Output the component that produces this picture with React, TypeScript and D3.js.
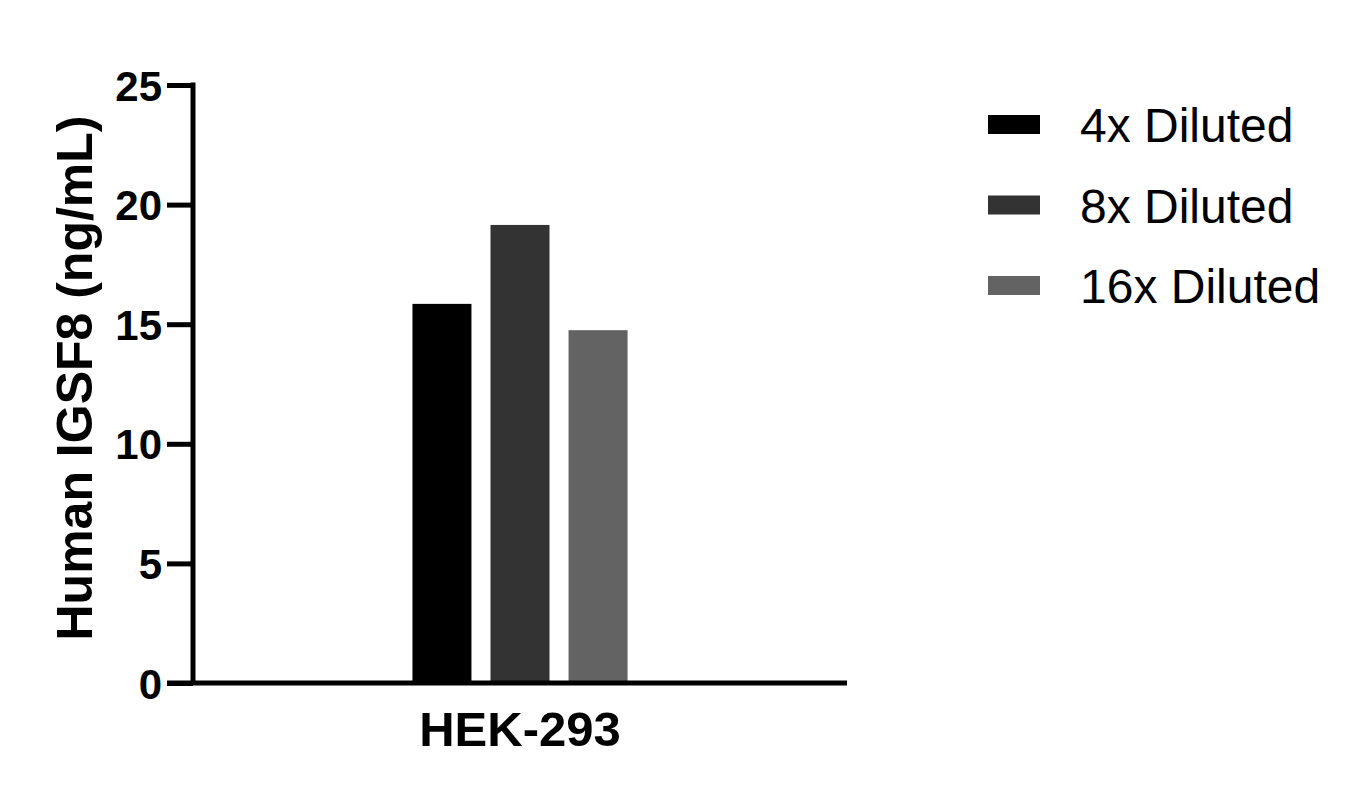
import React, { useEffect, useRef } from "react";
import * as d3 from "d3";

const categories = ["HEK-293"];
const seriesNames = ["4x Diluted", "8x Diluted", "16x Diluted"];
const seriesValues = [15.85, 19.15, 14.75];
const seriesColors = ["#000000", "#333333", "#636363"];
const yTicks = [0, 5, 10, 15, 20, 25];

const WIDTH = 1364;
const HEIGHT = 804;
const FONT = "'Liberation Sans', Arial, sans-serif";

export const App: React.FC = () => {
  const svgRef = useRef<SVGSVGElement | null>(null);

  useEffect(() => {
    document.body.style.margin = "0";
    const svg = d3.select(svgRef.current);
    svg.selectAll("*").remove();

    const margin = { top: 85, left: 193, right: 517, bottom: 121 };
    const innerWidth = WIDTH - margin.left - margin.right;
    const innerHeight = HEIGHT - margin.top - margin.bottom;

    const g = svg.append("g").attr("transform", `translate(${margin.left},${margin.top})`);

    const x0 = d3.scaleBand<string>().domain(categories).range([0, innerWidth]).paddingInner(0.505).paddingOuter(0.505);
    const x1 = d3.scaleBand<string>().domain(seriesNames).range([0, x0.bandwidth()]).paddingInner(0.244).paddingOuter(0);
    const y = d3.scaleLinear().domain([0, 25]).range([innerHeight, 0]);

    // bars
    categories.forEach((cat) => {
      g.append("g")
        .attr("transform", `translate(${x0(cat)},0)`)
        .selectAll("rect")
        .data(seriesNames.map((name, i) => ({ name, value: seriesValues[i], color: seriesColors[i] })))
        .join("rect")
        .attr("x", (d) => x1(d.name)!)
        .attr("width", x1.bandwidth())
        .attr("y", (d) => y(d.value))
        .attr("height", (d) => innerHeight - y(d.value))
        .attr("fill", (d) => d.color);
    });

    // y axis
    const yAxis = g.append("g")
      .call(d3.axisLeft(y).tickValues(yTicks).tickSize(26).tickPadding(5).tickSizeOuter(0));
    yAxis.select(".domain").attr("stroke", "#000").attr("stroke-width", 5).attr("d", `M0,${y(25) - 2.5}V${innerHeight}`);
    yAxis.selectAll(".tick line").attr("stroke", "#000").attr("stroke-width", 5);
    yAxis.selectAll(".tick text")
      .attr("fill", "#000")
      .style("font-family", FONT)
      .style("font-size", "42px")
      .style("font-weight", "bold")
      .attr("dy", "0.36em");

    // x axis
    const xAxis = g.append("g")
      .attr("transform", `translate(0,${innerHeight})`)
      .call(d3.axisBottom(x0).tickSize(0).tickPadding(28));
    xAxis.select(".domain").attr("stroke", "#000").attr("stroke-width", 5).attr("d", `M-26,0H${innerWidth}`);
    xAxis.selectAll(".tick text")
      .attr("fill", "#000")
      .style("font-family", FONT)
      .style("font-size", "49px")
      .style("font-weight", "bold")
      .attr("dy", "0.72em");

    // y label
    svg.append("text")
      .attr("transform", `translate(92,378) rotate(-90)`)
      .attr("text-anchor", "middle")
      .style("font-family", FONT)
      .style("font-size", "50px")
      .style("font-weight", "bold")
      .attr("fill", "#000")
      .text("Human IGSF8 (ng/mL)");

    // legend
    const legend = svg.append("g").attr("transform", "translate(988,125)");
    seriesNames.forEach((name, i) => {
      const row = legend.append("g").attr("transform", `translate(0,${i * 80.5})`);
      row.append("rect").attr("x", 0).attr("y", -10).attr("width", 52).attr("height", 19).attr("fill", seriesColors[i]);
      row.append("text")
        .attr("x", 92)
        .attr("y", 0)
        .attr("dy", "0.36em")
        .style("font-family", FONT)
        .style("font-size", "48px")
        .attr("fill", "#000")
        .text(name);
    });
  }, []);

  return <svg ref={svgRef} width={WIDTH} height={HEIGHT} style={{ display: "block", background: "#fff" }} />;
};

export default App;
